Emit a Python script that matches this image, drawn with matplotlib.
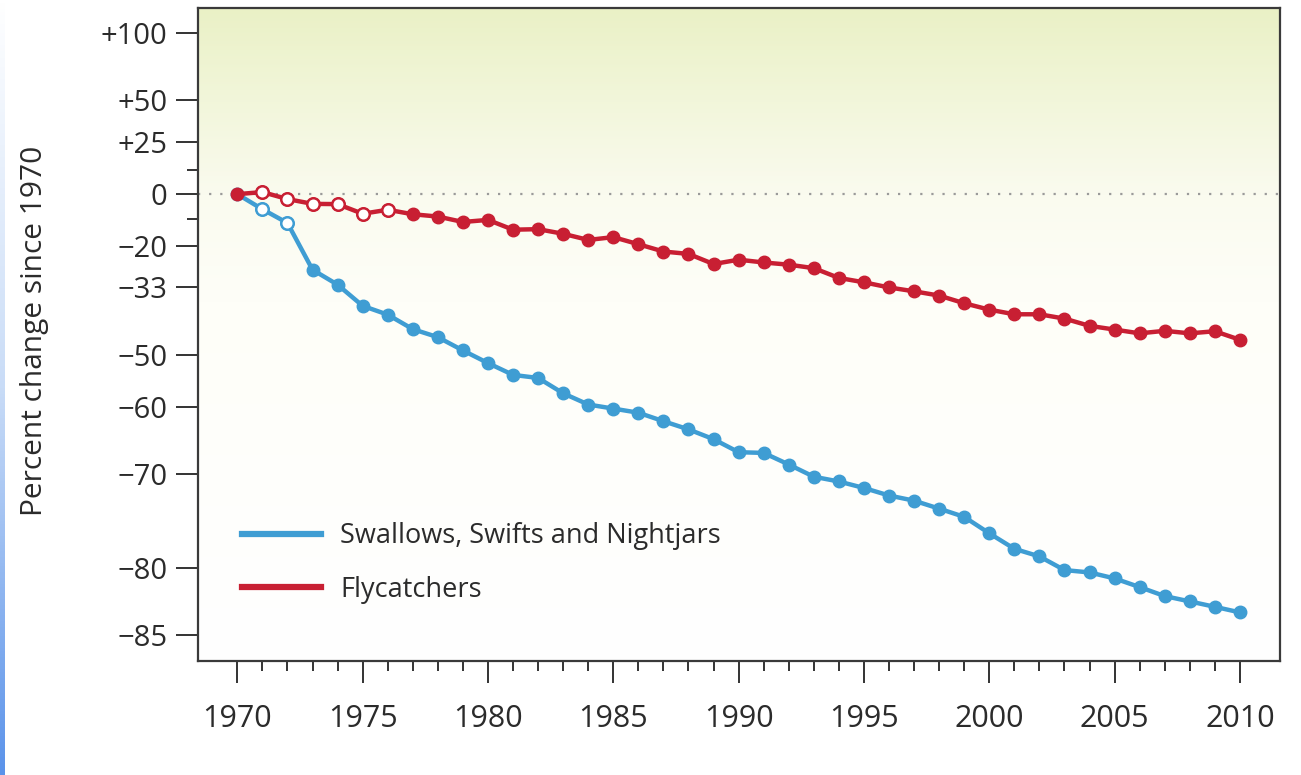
import numpy as np
import matplotlib
matplotlib.use("Agg")
import matplotlib.pyplot as plt
from matplotlib.colors import LinearSegmentedColormap
from matplotlib.lines import Line2D

# ---------------- data ----------------
years = list(range(1970, 2011))
swallows = [0, -6.3, -11.7, -27.8, -32.3, -38.2, -40.5, -44.1, -46.0, -49.0, -51.7,
            -54.1, -54.7, -57.6, -59.6, -60.3, -61.0, -62.4, -63.7, -65.2, -67.1,
            -67.2, -68.8, -70.4, -71.0, -71.8, -72.7, -73.3, -74.2, -75.1, -76.8,
            -78.3, -79.0, -80.2, -80.4, -80.9, -81.6, -82.3, -82.7, -83.1, -83.5]
flycatchers = [0, 0.9, -2.1, -4.1, -4.2, -8.1, -6.5, -8.3, -9.2, -11.3, -10.5,
               -14.2, -14.0, -15.7, -17.9, -16.9, -19.4, -21.9, -22.7, -26.0, -24.6,
               -25.5, -26.2, -27.3, -30.3, -31.6, -33.1, -34.2, -35.4, -37.5, -39.2,
               -40.4, -40.4, -41.5, -43.3, -44.2, -45.1, -44.5, -45.1, -44.6, -46.6]
swallows_open_years = [1971, 1972]
flycatchers_open_years = [1971, 1972, 1973, 1974, 1975, 1976]

ytick_pct = [100, 50, 25, 0, -20, -33, -50, -60, -70, -80, -85]
ytick_labels = ["+100", "+50", "+25", "0", "\u221220", "\u221233", "\u221250",
                "\u221260", "\u221270", "\u221280", "\u221285"]
yminor_pct = [11.1, -10]
xtick_years = list(range(1970, 2011, 5))

labels = ["Swallows, Swifts and Nightjars", "Flycatchers"]
blue = "#3f9dd3"
red = "#c81f33"
txt = "#2b2b2b"

plt.rcParams['font.family'] = ['Open Sans', 'DejaVu Sans']

W, H = 1301, 775
fig = plt.figure(figsize=(W / 100, H / 100), dpi=100)
fig.patch.set_facecolor("white")

ax = fig.add_axes([198 / W, 1 - 660.7 / H, (1280 - 198) / W, (660.7 - 8.3) / H])


def ratio(v):
    return [1 + p / 100.0 for p in v]


ax.set_yscale("log", base=2)
ax.set_ylim(0.134, 2.227)
ax.set_xlim(1968.43, 2011.6)

# background gradient
cmap = LinearSegmentedColormap.from_list(
    "bg", [(0.0, "#ffffff"), (0.55, "#fefef8"), (0.715, "#fafbef"), (1.0, "#eaf1c6")])
grad = np.linspace(0, 1, 256).reshape(-1, 1)
ax.imshow(grad, cmap=cmap, aspect="auto", extent=[0, 1, 0, 1], origin="lower",
          transform=ax.transAxes, zorder=0)

# zero reference line
ax.axhline(1.0, color="#9a9a9a", lw=1.6, ls=(0, (1, 4)), zorder=1)

for vals, col, open_years in [(swallows, blue, swallows_open_years),
                              (flycatchers, red, flycatchers_open_years)]:
    r = ratio(vals)
    ax.plot(years, r, color=col, lw=3.2, marker="o", ms=9, mfc=col, mec=col,
            zorder=3, solid_joinstyle="round")
    oy = [y for y in years if y in open_years]
    orr = [r[years.index(y)] for y in oy]
    ax.plot(oy, orr, ls="none", marker="o", ms=9, mfc="white", mec=col, mew=1.8,
            zorder=4)

# ticks
ax.set_yticks(ratio(ytick_pct))
ax.set_yticklabels(ytick_labels)
ax.set_yticks(ratio(yminor_pct), minor=True)
ax.yaxis.set_minor_formatter(matplotlib.ticker.NullFormatter())
ax.set_xticks(xtick_years)
ax.set_xticklabels([str(y) for y in xtick_years])
ax.set_xticks(years, minor=True)

ax.tick_params(axis="y", which="major", direction="out", length=16, width=1.4,
               color="#333333", labelsize=21, labelcolor=txt, pad=6)
ax.tick_params(axis="y", which="minor", direction="out", length=8, width=1.4,
               color="#333333")
ax.tick_params(axis="x", which="major", direction="out", length=16, width=1.4,
               color="#333333", labelsize=22, labelcolor=txt, pad=15)
ax.tick_params(axis="x", which="minor", direction="out", length=7, width=1.4,
               color="#333333")

for s in ax.spines.values():
    s.set_color("#3a3a3a")
    s.set_linewidth(1.6)

ax.set_ylabel("Percent change since 1970", fontsize=21.5, color=txt)
ax.yaxis.set_label_coords(-0.138, 0.505)

handles = [Line2D([], [], color=blue, lw=4.5), Line2D([], [], color=red, lw=4.5)]
ax.legend(handles, labels, loc="upper left", bbox_to_anchor=(0.031, 0.229),
          frameon=False, fontsize=19.5, handlelength=2.9, handletextpad=0.7,
          labelspacing=0.95, labelcolor=txt, borderaxespad=0)

# left blue screen edge strip
sax = fig.add_axes([0, 0, 5 / W, 1])
scm = LinearSegmentedColormap.from_list("st", ["#5b93ea", "#c9dcf7", "#ffffff"])
sax.imshow(np.linspace(0, 1, 256).reshape(-1, 1), cmap=scm, aspect="auto",
           extent=[0, 1, 0, 1], origin="lower")
sax.axis("off")

fig.savefig("out.png", dpi=100)
